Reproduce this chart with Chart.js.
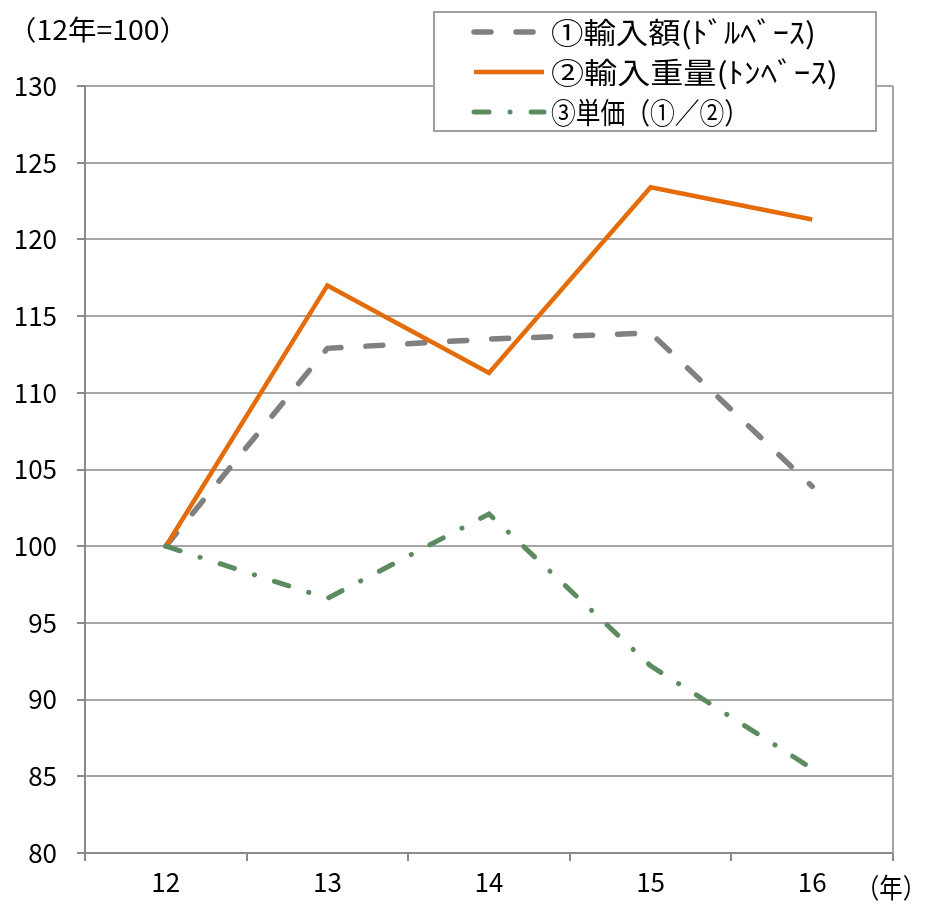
<!DOCTYPE html>
<html>
<head>
<meta charset="utf-8">
<script src="https://cdn.jsdelivr.net/npm/chart.js@4"></script>
<style>
  body { margin: 0; background: #fff; }
  #wrap { position: relative; width: 926px; height: 905px; }
</style>
</head>
<body>
<div id="wrap"><canvas id="chart" width="926" height="905"></canvas></div>
<script>
const years = ['12', '13', '14', '15', '16'];
const importValue = [100, 112.9, 113.5, 113.9, 103.9];
const importWeight = [100, 117.0, 111.3, 123.4, 121.3];
const unitPrice = [100, 96.6, 102.1, 92.2, 85.5];
const seriesNames = ['①輸入額(ﾄﾞﾙﾍﾞｰｽ)', '②輸入重量(ﾄﾝﾍﾞｰｽ)', '③単価（①／②）'];
const yTicks = [80, 85, 90, 95, 100, 105, 110, 115, 120, 125, 130];

const FONT = '"Noto Sans CJK JP", "Noto Sans", sans-serif';
const AXIS = '#8a8a8a';
const GRID = '#a6a6a6';

Chart.defaults.font.family = FONT;
Chart.defaults.font.size = 26;
Chart.defaults.color = '#000';

// scale text horizontally to fit a width, like the stretched excel fonts
function stretchText(ctx, text, x, y, width) {
    const w = ctx.measureText(text).width;
    ctx.save();
    ctx.translate(x, y);
    ctx.scale(width / w, 1);
    ctx.fillText(text, 0, 0);
    ctx.restore();
}

const extras = {
    id: 'extras',
    afterDraw(chart) {
        const ctx = chart.ctx;
        const area = chart.chartArea;
        ctx.save();
        // right border of plot area
        ctx.strokeStyle = GRID;
        ctx.lineWidth = 2;
        ctx.beginPath();
        ctx.moveTo(area.right, area.top);
        ctx.lineTo(area.right, area.bottom);
        ctx.stroke();

        ctx.fillStyle = '#000';
        ctx.textBaseline = 'middle';
        ctx.font = '27px ' + FONT;
        stretchText(ctx, '（12年=100）', 8, 30, 180);
        stretchText(ctx, '（年）', 856, 888, 70);

        // legend box
        const bx = 434, by = 12, bw = 442, bh = 119;
        ctx.fillStyle = '#fff';
        ctx.fillRect(bx, by, bw, bh);
        ctx.strokeStyle = '#a0a0a0';
        ctx.lineWidth = 2;
        ctx.strokeRect(bx, by, bw, bh);
        const widths = [265, 287, 198];
        chart.data.datasets.forEach((ds, i) => {
            const y = 32 + i * 40;
            ctx.strokeStyle = ds.borderColor;
            ctx.lineWidth = ds.borderWidth;
            ctx.lineCap = ds.borderCapStyle || 'butt';
            ctx.setLineDash(ds.borderDash || []);
            ctx.beginPath();
            ctx.moveTo(474, y);
            ctx.lineTo(544, y);
            ctx.stroke();
            ctx.setLineDash([]);
            ctx.fillStyle = '#000';
            ctx.font = '29px ' + FONT;
            stretchText(ctx, ds.label, 551, y + 1, widths[i]);
        });
        ctx.restore();
    }
};

new Chart(document.getElementById('chart'), {
    type: 'line',
    data: {
        labels: years,
        datasets: [
            {
                label: seriesNames[0],
                data: importValue,
                borderColor: '#808080',
                borderWidth: 5.5,
                borderDash: [17, 25],
                borderCapStyle: 'round',
                pointRadius: 0,
                order: 3
            },
            {
                label: seriesNames[1],
                data: importWeight,
                borderColor: '#E46C0A',
                borderWidth: 4.5,
                borderJoinStyle: 'miter',
                pointRadius: 0,
                order: 2
            },
            {
                label: seriesNames[2],
                data: unitPrice,
                borderColor: '#5B8B5F',
                borderWidth: 5,
                borderDash: [15, 21, 0.1, 21],
                borderCapStyle: 'round',
                pointRadius: 0,
                order: 1
            }
        ]
    },
    options: {
        responsive: false,
        animation: false,
        layout: { padding: { top: 86, right: 33, left: 0, bottom: 0 } },
        plugins: {
            legend: { display: false },
            tooltip: { enabled: false }
        },
        scales: {
            x: {
                offset: true,
                grid: {
                    offset: true,
                    drawOnChartArea: false,
                    tickLength: 8,
                    tickColor: AXIS,
                    lineWidth: 2
                },
                border: { color: AXIS, width: 2 },
                ticks: {
                    color: '#000',
                    padding: 6,
                    font: { family: FONT, size: 26 },
                    maxRotation: 0
                },
                afterFit(scale) { scale.height = 52; }
            },
            y: {
                min: 80,
                max: 130,
                afterBuildTicks(scale) {
                    scale.ticks = yTicks.map(v => ({ value: v }));
                },
                grid: {
                    color: GRID,
                    lineWidth: 2,
                    tickLength: 8,
                    tickColor: AXIS
                },
                border: { color: AXIS, width: 2 },
                ticks: {
                    color: '#000',
                    padding: 20,
                    font: { family: FONT, size: 26 }
                },
                afterFit(scale) { scale.width = 85; }
            }
        }
    },
    plugins: [extras]
});
</script>
</body>
</html>
